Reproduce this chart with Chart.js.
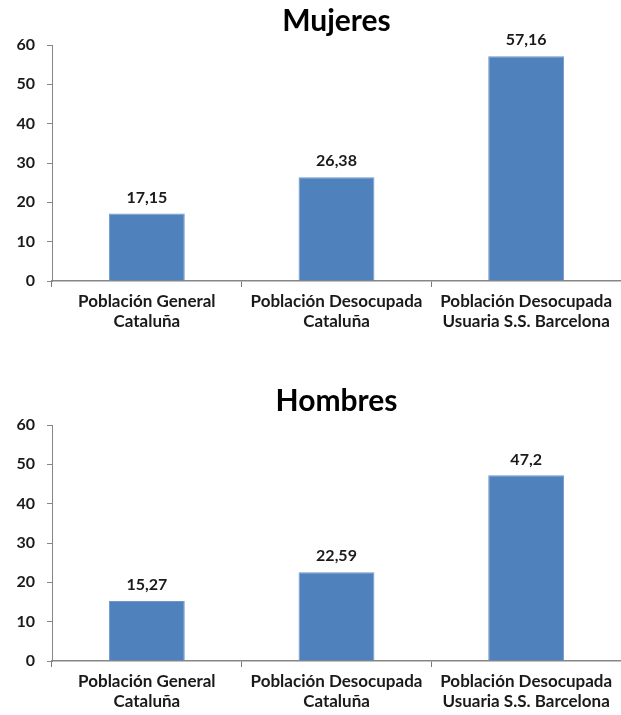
<!DOCTYPE html>
<html>
<head>
<meta charset="utf-8">
<script src="https://cdn.jsdelivr.net/npm/chart.js@4"></script>
<style>
	body { margin: 0; background: #fff; }
	.box { position: absolute; left: 0; width: 621px; height: 335px; }
</style>
</head>
<body>
<div class="box" style="top:0px"><canvas id="chartMujeres"></canvas></div>
<div class="box" style="top:380px"><canvas id="chartHombres"></canvas></div>
<script>
let categorias = [
	["Población General", "Cataluña"],
	["Población Desocupada", "Cataluña"],
	["Población Desocupada", "Usuaria S.S. Barcelona"]
];
let mujeres = [17.15, 26.38, 57.16];
let hombres = [15.27, 22.59, 47.2];
let yTicks = [0, 10, 20, 30, 40, 50, 60];

const fontFam = "Lato, 'Open Sans', sans-serif";

// etiquetas de valor encima de cada barra
const valorPlugin = {
	id: "valores",
	afterDatasetsDraw(chart) {
		const ctx = chart.ctx;
		const meta = chart.getDatasetMeta(0);
		const data = chart.data.datasets[0].data;
		ctx.save();
		ctx.font = "bold 16px " + fontFam;
		ctx.fillStyle = "#1a1a1a";
		ctx.textAlign = "center";
		ctx.textBaseline = "bottom";
		meta.data.forEach((bar, i) => {
			ctx.fillText(String(data[i]).replace(".", ","), bar.x, bar.y - 8);
		});
		ctx.restore();
	}
};

function crearGrafico(id, titulo, valores) {
	const ctx = document.getElementById(id).getContext("2d");
	return new Chart(ctx, {
		type: "bar",
		data: {
			labels: categorias,
			datasets: [{
				label: titulo,
				data: valores,
				backgroundColor: "#4F81BD",
				borderColor: "#6F97CA",
				borderWidth: 1,
				borderSkipped: "bottom",
				categoryPercentage: 1,
				barPercentage: 0.4
			}]
		},
		options: {
			responsive: true,
			maintainAspectRatio: false,
			animation: false,
			layout: { padding: 0 },
			plugins: {
				legend: { display: false },
				tooltip: { enabled: false },
				title: {
					display: true,
					text: titulo,
					fullSize: false,
					color: "#000",
					font: { size: 30, weight: "bold", family: fontFam },
					padding: { top: 3, bottom: 6 }
				}
			},
			scales: {
				x: {
					afterFit: (s) => { s.height = 54; },
					grid: {
						offset: true,
						drawOnChartArea: false,
						drawTicks: true,
						tickLength: 6,
						lineWidth: 1,
						tickColor: "#7a7a7a",
						color: "#7a7a7a"
					},
					border: { color: "#868686", width: 1.5 },
					ticks: {
						padding: 4,
						color: "#1a1a1a",
						maxRotation: 0,
						autoSkip: false,
						font: { size: 17, weight: "bold", family: fontFam, lineHeight: 1.18 }
					}
				},
				y: {
					min: 0,
					max: 60,
					afterFit: (s) => { s.width = 52; },
					afterBuildTicks: (s) => { s.ticks = yTicks.map(v => ({ value: v })); },
					grid: {
						drawOnChartArea: false,
						tickLength: 5,
						color: "#868686"
					},
					border: { color: "#868686", width: 1 },
					ticks: {
						padding: 12,
						color: "#1a1a1a",
						font: { size: 16, weight: "bold", family: fontFam }
					}
				}
			}
		},
		plugins: [valorPlugin]
	});
}

crearGrafico("chartMujeres", "Mujeres", mujeres);
crearGrafico("chartHombres", "Hombres", hombres);
</script>
</body>
</html>
